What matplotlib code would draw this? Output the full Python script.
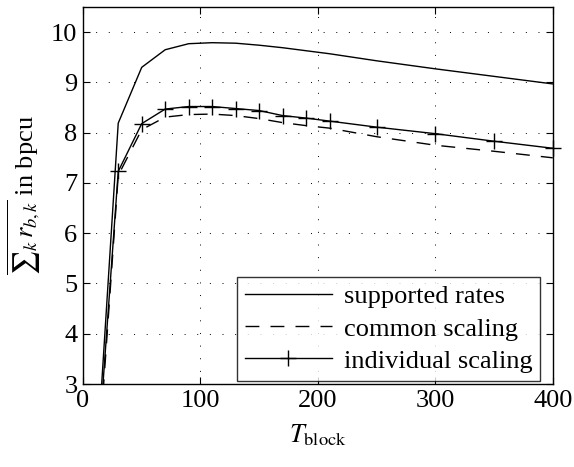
import numpy as np
import matplotlib
matplotlib.use("Agg")
import matplotlib.pyplot as plt

plt.rcParams['font.family'] = ['Liberation Serif', 'DejaVu Serif']
plt.rcParams['mathtext.fontset'] = 'stix'
fontsize = 19

# block lengths
t_block = [10, 30, 50, 70, 90, 110, 130, 150, 170, 190, 210, 250, 300, 350, 400]
# sum rate values (bpcu)
supported = [0.83, 8.19, 9.30, 9.65, 9.77, 9.79, 9.78, 9.74, 9.69, 9.63, 9.57, 9.43, 9.27, 9.12, 8.97]
common = [0.46, 7.15, 8.06, 8.31, 8.36, 8.37, 8.34, 8.28, 8.20, 8.14, 8.09, 7.92, 7.75, 7.63, 7.50]
individual = [0.72, 7.23, 8.18, 8.47, 8.52, 8.52, 8.48, 8.44, 8.34, 8.29, 8.23, 8.11, 7.98, 7.83, 7.69]

fig = plt.figure(figsize=(5.74, 4.67), dpi=100)
ax = fig.add_axes([0.1446, 0.1777, 0.963 - 0.1446, 0.985 - 0.1777])

ax.plot(t_block, supported, color='k', lw=1.0, label='supported rates')
ax.plot(t_block, common, color='k', lw=1.0, dashes=(10, 8), label='common scaling')
ax.plot(t_block, individual, color='k', lw=1.0)
# markers are not clipped at the axes border (only points inside limits)
t_arr = np.array(t_block)
ind_arr = np.array(individual)
inside = ind_arr >= 3
ax.plot(t_arr[inside], ind_arr[inside], ls='none', marker='+', ms=12, mew=1.0,
        color='k', clip_on=False, zorder=5)
# legend proxy
ax.plot([], [], color='k', lw=1.0, marker='+', ms=12, mew=1.0, label='individual scaling')

ax.set_xlim(0, 400)
ax.set_ylim(3, 10.5)
ax.set_xticks([0, 100, 200, 300, 400])
ax.set_yticks(range(3, 11))
ax.tick_params(direction='in', top=True, right=True, length=5, width=0.8,
               labelsize=fontsize, pad=4)
ax.grid(True, color='k', linestyle=(0, (1, 12)), linewidth=0.7)
for s in ax.spines.values():
    s.set_linewidth(1.0)

ax.set_xlabel(r'$T_{\mathrm{block}}$', fontsize=fontsize, labelpad=8)
ax.set_ylabel('$\\overline{\u2211_k\\, r_{b,k}}$ in bpcu', fontsize=fontsize, labelpad=6)

leg = ax.legend(loc='lower right', bbox_to_anchor=(0.973, 0.009), fontsize=fontsize,
                frameon=True, fancybox=False, edgecolor='k', handlelength=3.3,
                handletextpad=0.45, borderpad=0.3, labelspacing=0.33, borderaxespad=0)
leg.get_frame().set_linewidth(1.0)

fig.savefig('out.png', dpi=100)
